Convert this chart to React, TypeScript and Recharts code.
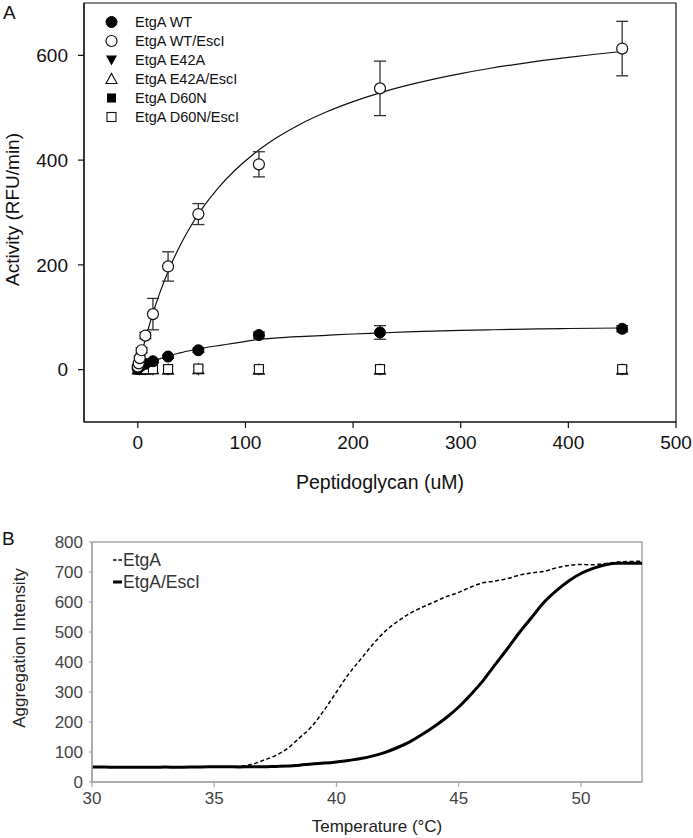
import React from 'react';
import {
  ComposedChart,
  Scatter,
  Line,
  XAxis,
  YAxis,
  ErrorBar,
  ReferenceArea,
  Legend,
  Label,
} from 'recharts';

// ---------- Panel A data ----------
const concentrations = [0, 0.88, 1.76, 3.5, 7.03, 14.06, 28.1, 56.25, 112.5, 225, 450];
const wtActivity = [2, 4, 6, 8, 11, 16, 25, 37, 66, 71, 78];
const wtError = [1, 1, 1, 2, 2, 3, 3, 4, 6, 13, 6];
const wtEscIActivity = [6, 12, 22, 37, 65, 106, 197, 297, 392, 537, 613];
const wtEscIError = [2, 3, 4, 5, 6, 30, 28, 20, 24, 52, 52];
const e42aActivity = [0, 0, -1, 0, -1, -1, -1, -1, -1, -1, -1];
const e42aError = [1, 1, 1, 1, 1, 2, 2, 2, 2, 2, 2];
const e42aEscIActivity = [1, 1, 0, 1, 0, 1, 0, 1, 0, 0, 0];
const e42aEscIError = [1, 1, 1, 1, 1, 2, 2, 2, 2, 2, 2];
const d60nActivity = [1, 0, 0, 1, 0, 0, 1, 1, 0, 0, 0];
const d60nError = [1, 1, 1, 1, 1, 2, 2, 2, 2, 2, 2];
const d60nEscIActivity = [1, 1, 1, 1, 1, 1, 1, 2, 1, 1, 1];
const d60nEscIError = [1, 1, 1, 1, 2, 3, 3, 3, 3, 2, 3];

const fitConcentrations = [0, 2, 5, 10, 15, 20, 30, 40, 50, 60, 75, 90, 110, 130, 150, 175, 200, 225, 250, 275, 300, 325, 350, 375, 400, 425, 450];
const wtEscIFit = [0, 17.6, 42.5, 80.2, 113.9, 144.2, 196.5, 240, 276.7, 308.2, 347.7, 380.2, 415.6, 444.1, 467.7, 491.9, 511.8, 528.5, 542.6, 554.7, 565.2, 574.4, 582.5, 589.8, 596.2, 602.1, 607.4];
const wtFit = [0, 2.8, 6.5, 12, 16.5, 20.5, 27, 32.5, 37, 41, 46, 50.5, 57, 60.5, 63, 65.5, 68, 70, 72, 73.5, 75, 76, 77, 77.8, 78.5, 79, 79.5];

const xTicksA = [0, 100, 200, 300, 400, 500];
const yTicksA = [0, 200, 400, 600];

// ---------- Panel B data ----------
const temperatures = [30, 30.5, 31, 31.5, 32, 32.5, 33, 33.5, 34, 34.5, 35, 35.5, 36, 36.5, 37, 37.5, 38, 38.5, 39, 39.5, 40, 40.5, 41, 41.5, 42, 42.5, 43, 43.5, 44, 44.5, 45, 45.5, 46, 46.5, 47, 47.5, 48, 48.5, 49, 49.5, 50, 50.5, 51, 51.5, 52, 52.5];
const etgAIntensity = [50, 50, 49, 49, 49, 49, 50, 49, 50, 50, 51, 51, 52, 58, 72, 88, 112, 148, 186, 240, 300, 360, 410, 460, 503, 535, 562, 582, 600, 618, 632, 650, 664, 670, 678, 690, 697, 702, 714, 722, 725, 724, 728, 733, 735, 736];
const etgAEscIIntensity = [50, 50, 49, 49, 49, 49, 50, 49, 50, 50, 51, 51, 50, 51, 51, 52, 53, 56, 60, 63, 67, 72, 78, 87, 99, 115, 134, 158, 185, 215, 250, 292, 338, 392, 445, 500, 550, 600, 638, 670, 695, 712, 724, 729, 729, 729];

const xTicksB = [30, 35, 40, 45, 50];
const yTicksB = [0, 100, 200, 300, 400, 500, 600, 700, 800];

// ---------- helpers ----------
const FONT = '"Liberation Sans", Arial, Helvetica, sans-serif';

const toPoints = (ys: number[], errs: number[]) =>
  concentrations.map((x, i) => ({ x, y: ys[i], err: errs[i] }));
const toFit = (ys: number[]) => fitConcentrations.map((x, i) => ({ x, y: ys[i] }));

const tableB = temperatures.map((t, i) => ({
  t,
  etgA: etgAIntensity[i],
  etgAEscI: etgAEscIIntensity[i],
}));

type ShapeProps = { cx?: number; cy?: number };

const FilledCircle = (p: ShapeProps) => (
  <circle cx={p.cx} cy={p.cy} r={5.5} fill="#000" stroke="#000" strokeWidth={1} />
);
const OpenCircle = (p: ShapeProps) => (
  <circle cx={p.cx} cy={p.cy} r={5.5} fill="#fff" stroke="#111" strokeWidth={1.2} />
);
const DownTriangle = (p: ShapeProps) => {
  const x = p.cx ?? 0;
  const y = p.cy ?? 0;
  return <path d={`M${x - 5.5},${y - 4.5}L${x + 5.5},${y - 4.5}L${x},${y + 5.5}Z`} fill="#000" />;
};
const UpTriangle = (p: ShapeProps) => {
  const x = p.cx ?? 0;
  const y = p.cy ?? 0;
  return (
    <path d={`M${x - 5.5},${y + 4.5}L${x + 5.5},${y + 4.5}L${x},${y - 5.5}Z`} fill="#fff" stroke="#111" strokeWidth={1.1} />
  );
};
const FilledSquare = (p: ShapeProps) => (
  <rect x={(p.cx ?? 0) - 4.5} y={(p.cy ?? 0) - 4.5} width={9} height={9} fill="#000" />
);
const OpenSquare = (p: ShapeProps) => (
  <rect x={(p.cx ?? 0) - 4.5} y={(p.cy ?? 0) - 4.5} width={9} height={9} fill="#fff" stroke="#111" strokeWidth={1.1} />
);

const legendItemsA = [
  { label: 'EtgA WT', Shape: FilledCircle },
  { label: 'EtgA WT/EscI', Shape: OpenCircle },
  { label: 'EtgA E42A', Shape: DownTriangle },
  { label: 'EtgA E42A/EscI', Shape: UpTriangle },
  { label: 'EtgA D60N', Shape: FilledSquare },
  { label: 'EtgA D60N/EscI', Shape: OpenSquare },
];

const LegendA = () => (
  <svg width={200} height={125} style={{ display: 'block' }}>
    {legendItemsA.map((item, i) => {
      const cy = 10 + i * 19;
      const S = item.Shape;
      return (
        <g key={item.label}>
          <S cx={11.5} cy={cy} />
          <text x={35} y={cy + 5} fontSize={14.5} fontFamily={FONT} fill="#111">
            {item.label}
          </text>
        </g>
      );
    })}
  </svg>
);

const LegendB = () => (
  <svg width={120} height={48} style={{ display: 'block' }}>
    <line x1={1} y1={10} x2={10} y2={10} stroke="#000" strokeWidth={1.4} strokeDasharray="3.5 2" />
    <text x={11} y={16} fontSize={17.5} fontFamily={FONT} fill="#333">EtgA</text>
    <line x1={1} y1={32} x2={10} y2={32} stroke="#000" strokeWidth={3} />
    <text x={11} y={38} fontSize={17.5} fontFamily={FONT} fill="#333">EtgA/EscI</text>
  </svg>
);

export default function App() {
  return (
    <div
      style={{
        position: 'absolute',
        left: 0,
        top: 0,
        width: 693,
        height: 838,
        background: '#fff',
        fontFamily: FONT,
      }}
    >
      <div style={{ position: 'absolute', left: 3, top: 3, fontSize: 19, lineHeight: '19px', color: '#111' }}>A</div>
      <div style={{ position: 'absolute', left: 2, top: 529, fontSize: 19, lineHeight: '19px', color: '#111' }}>B</div>

      <div style={{ position: 'absolute', left: 0, top: 0 }}>
        <ComposedChart width={693} height={500} margin={{ top: 3, right: 17, bottom: 0, left: 0 }}>
          <XAxis
            dataKey="x"
            type="number"
            domain={[-50, 500]}
            ticks={xTicksA}
            allowDataOverflow
            height={78}
            axisLine={{ stroke: '#111', strokeWidth: 1.2 }}
            tickLine={{ stroke: '#111', strokeWidth: 1.2 }}
            tickSize={6}
            tickMargin={8}
            tick={{ fontSize: 19, fill: '#111', fontFamily: FONT }}
          >
            <Label value="Peptidoglycan (uM)" position="insideBottom" offset={11} style={{ fontSize: 19.5, fill: '#111', fontFamily: FONT }} />
          </XAxis>
          <YAxis
            dataKey="y"
            type="number"
            domain={[-100, 700]}
            ticks={yTicksA}
            allowDataOverflow
            width={84}
            axisLine={{ stroke: '#111', strokeWidth: 1.2 }}
            tickLine={{ stroke: '#111', strokeWidth: 1.2 }}
            tickSize={6}
            tickMargin={10}
            tick={{ fontSize: 19, fill: '#111', fontFamily: FONT }}
          >
            <Label
              value="Activity (RFU/min)"
              angle={-90}
              position="insideLeft"
              offset={12}
              dy={-3}
              style={{ fontSize: 19, fill: '#111', fontFamily: FONT, textAnchor: 'middle' }}
            />
          </YAxis>
          <ReferenceArea x1={-50} x2={500} y1={-100} y2={700} fill="none" stroke="#111" strokeWidth={1.2} ifOverflow="visible" />

          <Line data={toFit(wtEscIFit)} dataKey="y" type="monotone" stroke="#111" strokeWidth={1.2} dot={false} isAnimationActive={false} legendType="none" />
          <Line data={toFit(wtFit)} dataKey="y" type="monotone" stroke="#111" strokeWidth={1.2} dot={false} isAnimationActive={false} legendType="none" />

          <Scatter name="EtgA E42A" data={toPoints(e42aActivity, e42aError)} dataKey="y" shape={DownTriangle} isAnimationActive={false}>
            <ErrorBar dataKey="err" direction="y" width={3} stroke="#222" strokeWidth={1} />
          </Scatter>
          <Scatter name="EtgA E42A/EscI" data={toPoints(e42aEscIActivity, e42aEscIError)} dataKey="y" shape={UpTriangle} isAnimationActive={false}>
            <ErrorBar dataKey="err" direction="y" width={3} stroke="#222" strokeWidth={1} />
          </Scatter>
          <Scatter name="EtgA D60N" data={toPoints(d60nActivity, d60nError)} dataKey="y" shape={FilledSquare} isAnimationActive={false}>
            <ErrorBar dataKey="err" direction="y" width={3} stroke="#222" strokeWidth={1} />
          </Scatter>
          <Scatter name="EtgA D60N/EscI" data={toPoints(d60nEscIActivity, d60nEscIError)} dataKey="y" shape={OpenSquare} isAnimationActive={false}>
            <ErrorBar dataKey="err" direction="y" width={3} stroke="#222" strokeWidth={1} />
          </Scatter>
          <Scatter name="EtgA WT" data={toPoints(wtActivity, wtError)} dataKey="y" shape={FilledCircle} isAnimationActive={false}>
            <ErrorBar dataKey="err" direction="y" width={6} stroke="#333" strokeWidth={1.3} />
          </Scatter>
          <Scatter name="EtgA WT/EscI" data={toPoints(wtEscIActivity, wtEscIError)} dataKey="y" shape={OpenCircle} isAnimationActive={false}>
            <ErrorBar dataKey="err" direction="y" width={6} stroke="#333" strokeWidth={1.3} />
          </Scatter>

          <Legend
            layout="vertical"
            align="center"
            verticalAlign="middle"
            content={LegendA}
            wrapperStyle={{ position: 'absolute', left: 100, top: 12, width: 200, height: 125 }}
          />
        </ComposedChart>
      </div>

      <div style={{ position: 'absolute', left: 0, top: 500 }}>
        <ComposedChart width={693} height={338} data={tableB} margin={{ top: 42, right: 51, bottom: 0, left: 0 }}>
          <XAxis
            dataKey="t"
            type="number"
            domain={[30, 52.5]}
            ticks={xTicksB}
            allowDataOverflow
            height={56}
            axisLine={{ stroke: '#a8a8a8', strokeWidth: 1.5 }}
            tickLine={{ stroke: '#a8a8a8', strokeWidth: 1.2 }}
            tickSize={5}
            tickMargin={5}
            tick={{ fontSize: 17, fill: '#444', fontFamily: FONT }}
          >
            <Label value="Temperature (°C)" position="insideBottom" offset={6} dx={10} style={{ fontSize: 17, fill: '#222', fontFamily: FONT }} />
          </XAxis>
          <YAxis
            type="number"
            domain={[0, 800]}
            ticks={yTicksB}
            allowDataOverflow
            width={92}
            axisLine={{ stroke: '#a8a8a8', strokeWidth: 1.5 }}
            tickLine={{ stroke: '#a8a8a8', strokeWidth: 1.2 }}
            tickSize={3}
            tickMargin={6}
            tick={{ fontSize: 17, fill: '#444', fontFamily: FONT }}
          >
            <Label
              value="Aggregation Intensity"
              angle={-90}
              position="insideLeft"
              offset={19}
              dy={-14}
              style={{ fontSize: 17, fill: '#222', fontFamily: FONT, textAnchor: 'middle' }}
            />
          </YAxis>
          <ReferenceArea x1={30} x2={52.5} y1={0} y2={800} fill="none" stroke="#a8a8a8" strokeWidth={1.5} ifOverflow="visible" />
          <Line dataKey="etgA" name="EtgA" type="monotone" stroke="#000" strokeWidth={1.5} strokeDasharray="4 2.5" dot={false} isAnimationActive={false} />
          <Line dataKey="etgAEscI" name="EtgA/EscI" type="monotone" stroke="#000" strokeWidth={3} dot={false} isAnimationActive={false} />
          <Legend
            layout="vertical"
            align="center"
            verticalAlign="middle"
            content={LegendB}
            wrapperStyle={{ position: 'absolute', left: 112, top: 50, width: 120, height: 48 }}
          />
        </ComposedChart>
      </div>
    </div>
  );
}
